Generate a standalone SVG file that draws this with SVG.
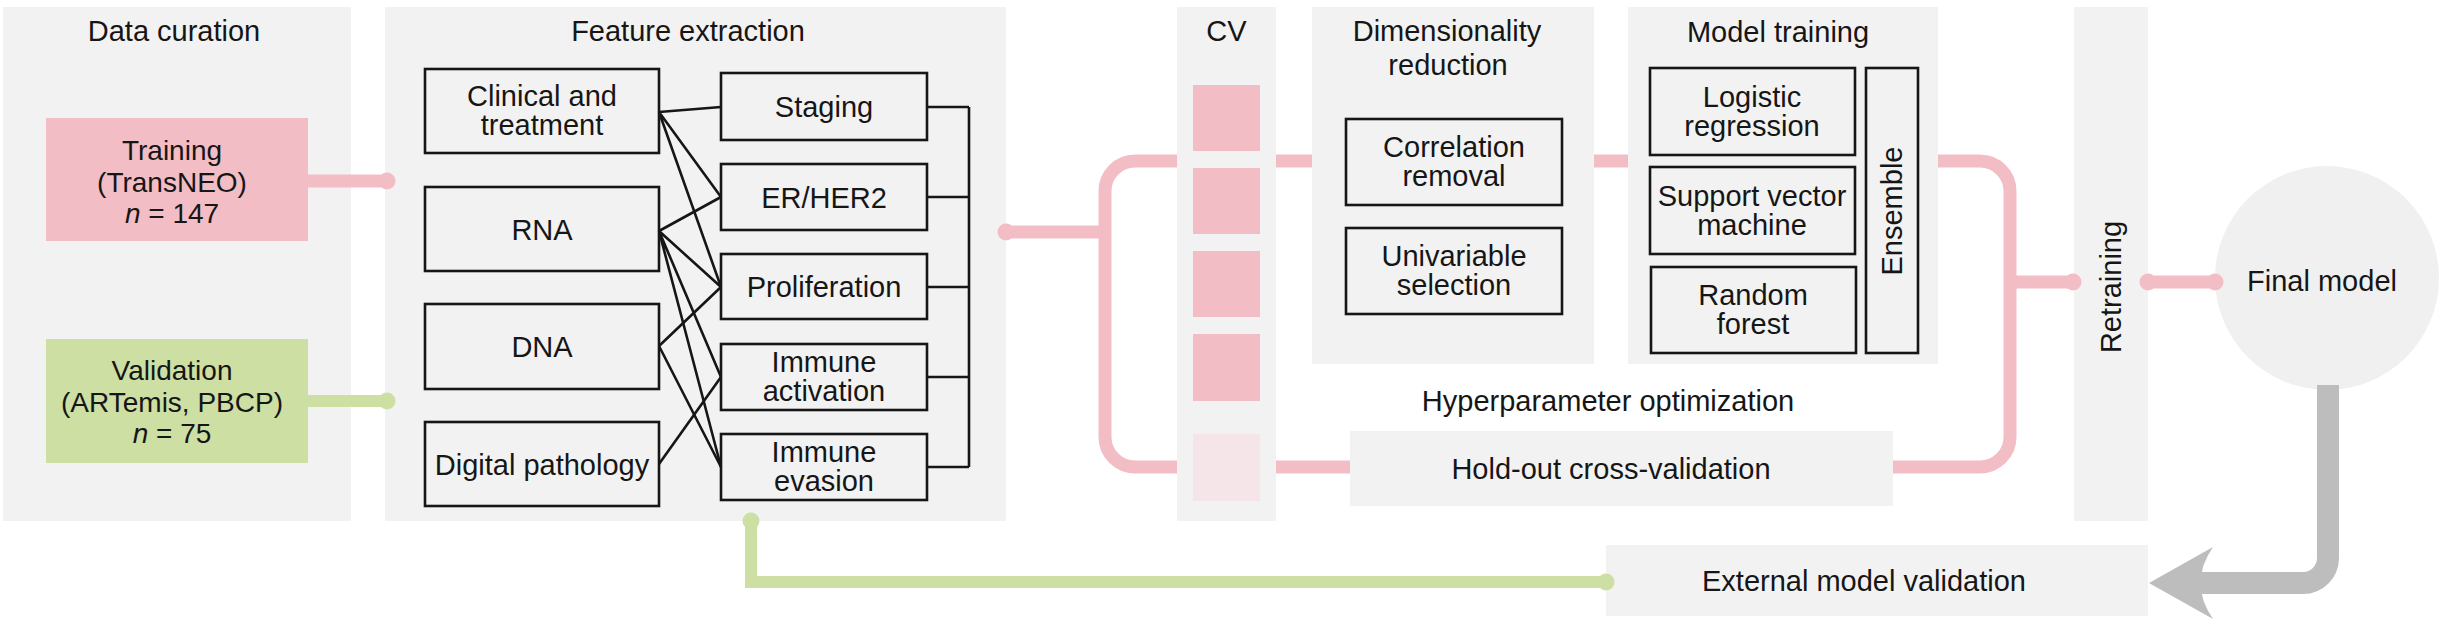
<svg xmlns="http://www.w3.org/2000/svg" width="2454" height="628" viewBox="0 0 2454 628">
<style>
text{font-family:"Liberation Sans",Arial,Helvetica,sans-serif;font-size:29px;fill:#161616;text-anchor:middle}
.sm{font-size:28px}
.panel{fill:#f2f2f2}
.box{fill:#f2f2f2;stroke:#161616;stroke-width:2.6}
.pink{fill:#f3bdc5}
.pinkf{fill:#f5e4e8}
.green{fill:#cddfa3}
.pl{fill:none;stroke:#f3bdc5;stroke-width:13}
.gl{fill:none;stroke:#cddfa3;stroke-width:12}
.bl{fill:none;stroke:#161616;stroke-width:2.6}
.pd{fill:#f3bdc5}
.gd{fill:#cddfa3}
</style>
<rect width="2454" height="628" fill="#ffffff"/>

<g id="data-curation">
<rect class="panel" x="3" y="7" width="348" height="514"/>
<text x="174" y="41">Data curation</text>
</g>
<g id="training">
<rect class="pink" x="46" y="118" width="262" height="123"/>
<text class="sm" x="172" y="160">Training</text>
<text class="sm" x="172" y="192">(TransNEO)</text>
<text class="sm" x="172" y="223"><tspan font-style="italic">n</tspan> = 147</text>
</g>
<g id="validation">
<rect class="green" x="46" y="339" width="262" height="124"/>
<text class="sm" x="172" y="380">Validation</text>
<text class="sm" x="172" y="412">(ARTemis, PBCP)</text>
<text class="sm" x="172" y="443"><tspan font-style="italic">n</tspan> = 75</text>
</g>

<g id="feature-extraction">
<rect class="panel" x="385" y="7" width="621" height="514"/>
<text x="688" y="41">Feature extraction</text>
</g>
<g id="clinical"><rect class="box" x="425" y="69" width="234" height="84"/><text x="542" y="106">Clinical and</text><text x="542" y="135">treatment</text></g>
<g id="rna"><rect class="box" x="425" y="187" width="234" height="84"/><text x="542" y="239.5">RNA</text></g>
<g id="dna"><rect class="box" x="425" y="304" width="234" height="85"/><text x="542" y="357">DNA</text></g>
<g id="digital-pathology"><rect class="box" x="425" y="422" width="234" height="84"/><text x="542" y="474.5">Digital pathology</text></g>
<g id="staging"><rect class="box" x="721" y="73" width="206" height="67"/><text x="824" y="117">Staging</text></g>
<g id="er-her2"><rect class="box" x="721" y="164" width="206" height="66"/><text x="824" y="207.5">ER/HER2</text></g>
<g id="proliferation"><rect class="box" x="721" y="254" width="206" height="65"/><text x="824" y="297">Proliferation</text></g>
<g id="immune-activation"><rect class="box" x="721" y="344" width="206" height="66"/><text x="824" y="372">Immune</text><text x="824" y="401">activation</text></g>
<g id="immune-evasion"><rect class="box" x="721" y="434" width="206" height="66"/><text x="824" y="462">Immune</text><text x="824" y="491">evasion</text></g>

<g id="cv">
<rect class="panel" x="1177" y="7" width="99" height="514"/>
<text x="1226.5" y="41">CV</text>
<rect class="pink" x="1193" y="85" width="67" height="66"/>
<rect class="pink" x="1193" y="168" width="67" height="66"/>
<rect class="pink" x="1193" y="251" width="67" height="66"/>
<rect class="pink" x="1193" y="334" width="67" height="67"/>
<rect class="pinkf" x="1193" y="434" width="67" height="67"/>
</g>

<g id="dimensionality-reduction">
<rect class="panel" x="1312" y="7" width="282" height="357"/>
<text x="1447" y="41">Dimensionality</text>
<text x="1448" y="75">reduction</text>
</g>
<g id="correlation-removal"><rect class="box" x="1346" y="119" width="216" height="86"/><text x="1454" y="157">Correlation</text><text x="1454" y="186">removal</text></g>
<g id="univariable-selection"><rect class="box" x="1346" y="228" width="216" height="86"/><text x="1454" y="266">Univariable</text><text x="1454" y="295">selection</text></g>

<g id="model-training">
<rect class="panel" x="1628" y="7" width="310" height="357"/>
<text x="1778" y="42">Model training</text>
</g>
<g id="logistic-regression"><rect class="box" x="1650" y="68" width="205" height="87"/><text x="1752" y="106.5">Logistic</text><text x="1752" y="135.5">regression</text></g>
<g id="svm"><rect class="box" x="1650" y="167" width="205" height="87"/><text x="1752" y="205.5">Support vector</text><text x="1752" y="234.5">machine</text></g>
<g id="random-forest"><rect class="box" x="1651" y="267" width="205" height="86"/><text x="1753" y="305">Random</text><text x="1753" y="334">forest</text></g>
<g id="ensemble"><rect class="box" x="1866" y="68" width="52" height="285"/><text transform="translate(1902,211) rotate(-90)">Ensemble</text></g>

<g id="hyperparameter-optimization">
<text x="1608" y="411">Hyperparameter optimization</text>
</g>
<g id="hold-out">
<rect class="panel" x="1350" y="431" width="543" height="75"/>
<text x="1611" y="479">Hold-out cross-validation</text>
</g>

<g id="retraining">
<rect class="panel" x="2074" y="7" width="74" height="514"/>
<text transform="translate(2121,287) rotate(-90)">Retraining</text>
</g>
<g id="final-model">
<circle cx="2327" cy="278" r="112" fill="#f0f0f0"/>
<text x="2322" y="291">Final model</text>
</g>
<g id="external-validation">
<rect class="panel" x="1606" y="545" width="542" height="71"/>
<text x="1864" y="591">External model validation</text>
</g>

<g id="connectors">
<g class="bl">
<path d="M927,107H969M927,197H969M927,287H969M927,377H969M927,467H969M969,107V467"/>
<path d="M659,112L721,107M659,112L721,197M659,112L721,287"/>
<path d="M659,231L721,197M659,231L721,287M659,231L721,377M659,231L721,467"/>
<path d="M659,346L721,287M659,346L721,467"/>
<path d="M659,464L721,377"/>
</g>
<g class="pl">
<path d="M308,181H387"/>
<path d="M1006,232H1105"/>
<path d="M1177,161H1135A30,30 0 0 0 1105,191V437A30,30 0 0 0 1135,467H1177"/>
<path d="M1276,161H1312"/>
<path d="M1276,467H1350"/>
<path d="M1594,161H1628"/>
<path d="M1938,161H1980A30,30 0 0 1 2010,191V437A30,30 0 0 1 1980,467H1893"/>
<path d="M2010,282H2073"/>
<path d="M2148,282H2215"/>
</g>
<g class="pd">
<circle cx="387" cy="181" r="8.5"/>
<circle cx="1006" cy="232" r="8.5"/>
<circle cx="2073" cy="282" r="8.5"/>
<circle cx="2148" cy="282" r="8.5"/>
<circle cx="2215" cy="282" r="8.5"/>
</g>
<g class="gl">
<path d="M308,401H387"/>
<path d="M751,521V582H1606"/>
</g>
<g class="gd">
<circle cx="387" cy="401" r="8.5"/>
<circle cx="751" cy="521" r="8.5"/>
<circle cx="1606" cy="582" r="8.5"/>
</g>
<path d="M2328,385V558A25,25 0 0 1 2303,583H2200" fill="none" stroke="#bdbdbd" stroke-width="22"/>
<path d="M2149,583L2213,547Q2200,566 2201,583Q2200,600 2213,619Z" fill="#bdbdbd"/>
</g>
</svg>
